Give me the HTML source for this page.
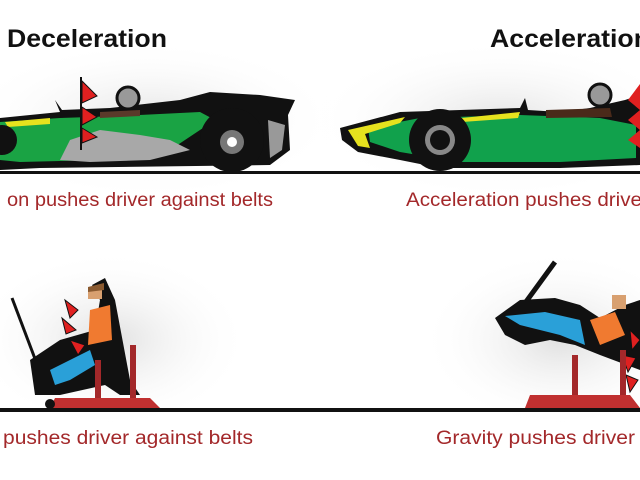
<!DOCTYPE html>
<html><head><style>
html,body{margin:0;padding:0;background:#fff;}
svg{display:block}
text{font-family:"Liberation Sans",sans-serif}
</style></head><body>
<svg width="640" height="480" viewBox="0 0 640 480" xmlns="http://www.w3.org/2000/svg">
<defs>
<radialGradient id="g" cx="50%" cy="50%" r="50%"><stop offset="0" stop-color="#d8d8d8"/><stop offset="1" stop-color="#fff" stop-opacity="0"/></radialGradient>
</defs>
<rect width="640" height="480" fill="#fff"/>
<ellipse cx="150" cy="120" rx="190" ry="80" fill="url(#g)" opacity=".7"/>
<ellipse cx="500" cy="120" rx="190" ry="80" fill="url(#g)" opacity=".7"/>
<ellipse cx="110" cy="340" rx="140" ry="90" fill="url(#g)" opacity=".8"/>
<ellipse cx="560" cy="340" rx="140" ry="90" fill="url(#g)" opacity=".8"/>

<text x="7" y="47" font-size="25" font-weight="bold" fill="#111" textLength="160" lengthAdjust="spacingAndGlyphs">Deceleration</text>
<text x="490" y="47" font-size="25" font-weight="bold" fill="#111" textLength="160" lengthAdjust="spacingAndGlyphs">Acceleration</text>

<!-- left car -->
<path d="M0 118 L60 112 L55 100 L62 110 L110 108 L180 100 L210 92 L260 95 L295 100 L288 115 L290 150 L270 165 L40 168 L0 170 Z" fill="#111"/>
<path d="M0 122 L60 118 L120 116 L200 112 L215 120 L200 130 L170 150 L100 160 L20 162 L0 160 Z" fill="#1aa344"/>
<path d="M70 140 L100 130 L140 135 L170 140 L190 150 L150 160 L90 162 L60 160 Z" fill="#a8a8a8"/>
<path d="M5 122 L50 118 L50 124 L8 127Z" fill="#e6e21e"/>
<path d="M268 120 L285 125 L282 150 L270 158Z" fill="#999"/>
<path d="M100 112 L140 110 L140 116 L100 118Z" fill="#5a3a2a"/>
<circle cx="128" cy="98" r="11" fill="#999" stroke="#111" stroke-width="3"/>
<circle cx="232" cy="140" r="32" fill="#111"/>
<circle cx="232" cy="142" r="12" fill="#777"/><circle cx="232" cy="142" r="5" fill="#fff"/>
<circle cx="2" cy="140" r="15" fill="#111"/>
<line x1="81" y1="77" x2="81" y2="150" stroke="#111" stroke-width="2"/>
<path d="M82 81 L97 96 L82 103Z M82 107 L97 117 L82 125Z M82 128 L97 137 L82 143Z" fill="#e02020" stroke="#111" stroke-width="1"/>

<!-- right car -->
<path d="M340 128 L400 112 L520 108 L525 98 L528 110 L560 112 L590 108 L625 100 L640 95 L640 165 L560 168 L440 168 L400 160 L358 152 L342 140Z" fill="#111"/>
<path d="M368 128 L420 118 L520 115 L600 118 L636 125 L636 158 L560 162 L460 162 L400 152 L370 142Z" fill="#11a14c"/>
<path d="M348 130 L405 117 L400 123 L365 134 L370 148 L358 146Z" fill="#e6e21e"/>
<path d="M462 118 L520 112 L518 118 L462 122Z" fill="#e6e21e"/>
<path d="M546 110 L610 108 L612 117 L546 118Z" fill="#4a2a1a"/>
<circle cx="600" cy="95" r="11" fill="#999" stroke="#111" stroke-width="3"/>
<circle cx="440" cy="140" r="31" fill="#111"/>
<circle cx="440" cy="140" r="15" fill="#888"/><circle cx="440" cy="140" r="10" fill="#111"/>
<path d="M640 84 L628 100 L640 110Z M640 110 L628 120 L640 130Z M640 130 L628 140 L640 148Z" fill="#e02020"/>

<rect x="0" y="171" width="640" height="3" fill="#111"/>
<text x="7" y="206" font-size="19" fill="#a3282a" textLength="266" lengthAdjust="spacingAndGlyphs">on pushes driver against belts</text>
<text x="406" y="206" font-size="19" fill="#a3282a" textLength="236" lengthAdjust="spacingAndGlyphs">Acceleration pushes drive</text>

<!-- left seat -->
<path d="M12 298 L40 372" stroke="#111" stroke-width="3"/>
<path d="M30 360 L60 340 L95 330 L100 300 L92 285 L105 278 L115 300 L130 380 L140 395 L120 395 L105 385 L60 395 L35 395 Z" fill="#111"/>
<path d="M50 370 L70 360 L90 350 L95 365 L70 380 L55 385Z" fill="#2aa0d8"/>
<path d="M90 310 L110 305 L112 340 L88 345Z" fill="#f07a30"/>
<rect x="88" y="287" width="14" height="12" fill="#d8a070"/>
<path d="M88 287 L104 283 L104 290 L88 292Z" fill="#8a5a30"/>
<path d="M65 300 L78 310 L70 318Z M62 318 L76 330 L66 334Z M70 340 L85 345 L78 355Z" fill="#e02020" stroke="#111"/>
<rect x="95" y="360" width="6" height="40" fill="#a3282a"/>
<rect x="130" y="345" width="6" height="55" fill="#a3282a"/>
<path d="M55 398 L150 398 L160 408 L50 408Z" fill="#c03030"/>
<circle cx="50" cy="404" r="5" fill="#111"/>

<!-- right seat -->
<path d="M520 310 L555 262" stroke="#111" stroke-width="5"/>
<path d="M495 318 L520 300 L555 298 L580 305 L600 318 L625 305 L640 300 L640 370 L600 355 L575 345 L550 340 L525 345 L505 335Z" fill="#111"/>
<path d="M505 316 L545 312 L580 320 L585 345 L560 335 L520 325Z" fill="#2aa0d8"/>
<path d="M590 320 L615 312 L625 335 L600 345Z" fill="#f07a30"/>
<rect x="612" y="295" width="14" height="14" fill="#d8a070"/>
<path d="M630 330 L640 340 L632 350Z M622 355 L636 358 L628 372Z M626 375 L638 380 L630 392Z" fill="#e02020" stroke="#111"/>
<rect x="572" y="355" width="6" height="45" fill="#a3282a"/>
<rect x="620" y="350" width="6" height="55" fill="#a3282a"/>
<path d="M530 395 L630 395 L640 408 L525 408Z" fill="#c03030"/>

<rect x="0" y="408" width="640" height="4" fill="#111"/>
<text x="3" y="444" font-size="19" fill="#a3282a" textLength="250" lengthAdjust="spacingAndGlyphs">pushes driver against belts</text>
<text x="436" y="444" font-size="19" fill="#a3282a" textLength="199" lengthAdjust="spacingAndGlyphs">Gravity pushes driver</text>
</svg>
</body></html>
